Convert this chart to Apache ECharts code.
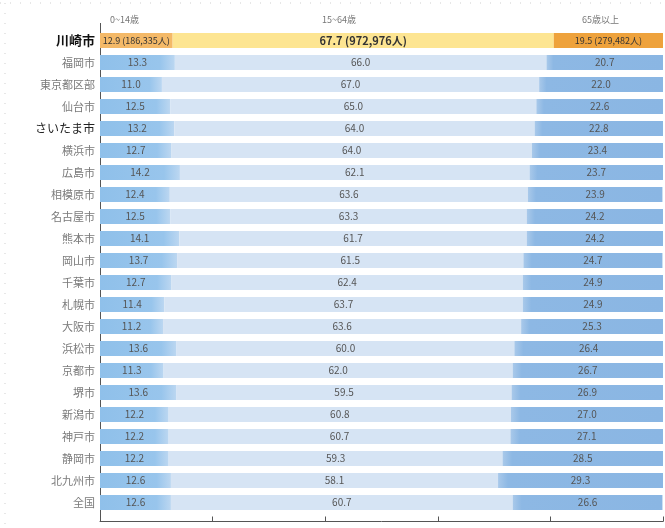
<!DOCTYPE html>
<html>
<head>
<meta charset="utf-8">
<script src="https://cdn.jsdelivr.net/npm/echarts@6/dist/echarts.min.js"></script>
<style>
  html, body { margin: 0; padding: 0; background: #fff; }
  #chart { width: 665px; height: 528px; }
</style>
</head>
<body>
<div id="chart"></div>
<script>
"use strict";

// 年齢3区分別人口の割合（%）
const cities = ['川崎市', '福岡市', '東京都区部', '仙台市', 'さいたま市', '横浜市', '広島市', '相模原市',
  '名古屋市', '熊本市', '岡山市', '千葉市', '札幌市', '大阪市', '浜松市', '京都市', '堺市', '新潟市',
  '神戸市', '静岡市', '北九州市', '全国'];
const young = [12.9, 13.3, 11.0, 12.5, 13.2, 12.7, 14.2, 12.4, 12.5, 14.1, 13.7, 12.7, 11.4, 11.2, 13.6,
  11.3, 13.6, 12.2, 12.2, 12.2, 12.6, 12.6];
const working = [67.7, 66.0, 67.0, 65.0, 64.0, 64.0, 62.1, 63.6, 63.3, 61.7, 61.5, 62.4, 63.7, 63.6, 60.0,
  62.0, 59.5, 60.8, 60.7, 59.3, 58.1, 60.7];
const old = [19.5, 20.7, 22.0, 22.6, 22.8, 23.4, 23.7, 23.9, 24.2, 24.2, 24.7, 24.9, 24.9, 25.3, 26.4,
  26.7, 26.9, 27.0, 27.1, 28.5, 29.3, 26.6];
const groupNames = ['0~14歳', '15~64歳', '65歳以上'];
// 川崎市の人数
const kawasakiPeople = ['186,335人', '972,976人', '279,482人'];

const FONT = '"Noto Sans CJK JP", "Noto Sans", sans-serif';
const hiIndex = 0;

const blueYoung = {
  type: 'linear', x: 0, y: 0, x2: 1, y2: 0,
  colorStops: [{ offset: 0, color: '#8fc0ea' }, { offset: 0.8, color: '#98c5ec' }, { offset: 1, color: '#bcd7f1' }]
};
const blueOld = {
  type: 'linear', x: 0, y: 0, x2: 1, y2: 0,
  colorStops: [{ offset: 0, color: '#a9c9ea' }, { offset: 0.06, color: '#8db8e4' }, { offset: 1, color: '#8ab6e3' }]
};
const hiColors = ['#f4b968', '#fde592', '#eea23c'];
const baseColors = [blueYoung, '#d6e4f4', blueOld];

function buildData(values, k) {
  return values.map((v, i) => {
    if (i === hiIndex) {
      return {
        value: v,
        itemStyle: { color: hiColors[k] },
        label: {
          formatter: v.toFixed(1) + ' (' + kawasakiPeople[k] + ')',
          fontWeight: k === 1 ? 'bold' : 'normal',
          fontSize: k === 1 ? 11 : 9,
          color: '#333'
        }
      };
    }
    return v;
  });
}

const chart = echarts.init(document.getElementById('chart'));

const option = {
  animation: false,
  textStyle: { fontFamily: FONT },
  grid: { left: 100, right: 2, top: 29.5, bottom: 14.5 },
  xAxis: {
    type: 'value',
    min: 0,
    max: 100,
    interval: 20,
    offset: 8,
    axisLine: { show: true, lineStyle: { color: '#555', width: 1 } },
    axisTick: { show: true, inside: true, length: 5, lineStyle: { color: '#555' } },
    axisLabel: { show: false },
    splitLine: { show: false }
  },
  yAxis: {
    type: 'category',
    inverse: true,
    data: cities,
    axisLine: { show: false },
    axisTick: { show: false },
    axisLabel: {
      margin: 5,
      fontSize: 11,
      color: '#7a7a7a',
      fontFamily: FONT,
      formatter: (v, i) => {
        if (i === hiIndex) return '{hi|' + v + '}';
        if (v === 'さいたま市') return '{bold|' + v + '}';
        return v;
      },
      rich: {
        hi: { fontSize: 13, fontWeight: 'bold', color: '#111', fontFamily: FONT },
        bold: { fontSize: 12, color: '#222', fontFamily: FONT }
      }
    }
  },
  series: [young, working, old].map((vals, k) => ({
    name: groupNames[k],
    type: 'bar',
    stack: 'total',
    barWidth: 15,
    itemStyle: { color: baseColors[k] },
    label: {
      show: true,
      position: 'inside',
      fontSize: 10,
      color: '#555',
      fontFamily: FONT,
      formatter: p => p.value.toFixed(1)
    },
    data: buildData(vals, k)
  })),
  graphic: [
    // 左の縦軸線
    { type: 'line', shape: { x1: 100.5, y1: 23, x2: 100.5, y2: 522 }, style: { stroke: '#555', lineWidth: 1 } },
    // 見出し
    { type: 'text', left: 110, top: 15, style: { text: groupNames[0], fontSize: 9, fill: '#777', fontFamily: FONT } },
    { type: 'text', left: 322, top: 15, style: { text: groupNames[1], fontSize: 9, fill: '#777', fontFamily: FONT } },
    { type: 'text', left: 582, top: 15, style: { text: groupNames[2], fontSize: 9, fill: '#777', fontFamily: FONT } },
    // 点線の枠
    { type: 'line', shape: { x1: 0, y1: 3, x2: 665, y2: 3 }, style: { stroke: '#cfcfcf', lineWidth: 1, lineDash: [1, 9] } },
    { type: 'line', shape: { x1: 5, y1: 3, x2: 5, y2: 528 }, style: { stroke: '#cfcfcf', lineWidth: 1, lineDash: [1, 9] } }
  ]
};

chart.setOption(option);
</script>
</body>
</html>
